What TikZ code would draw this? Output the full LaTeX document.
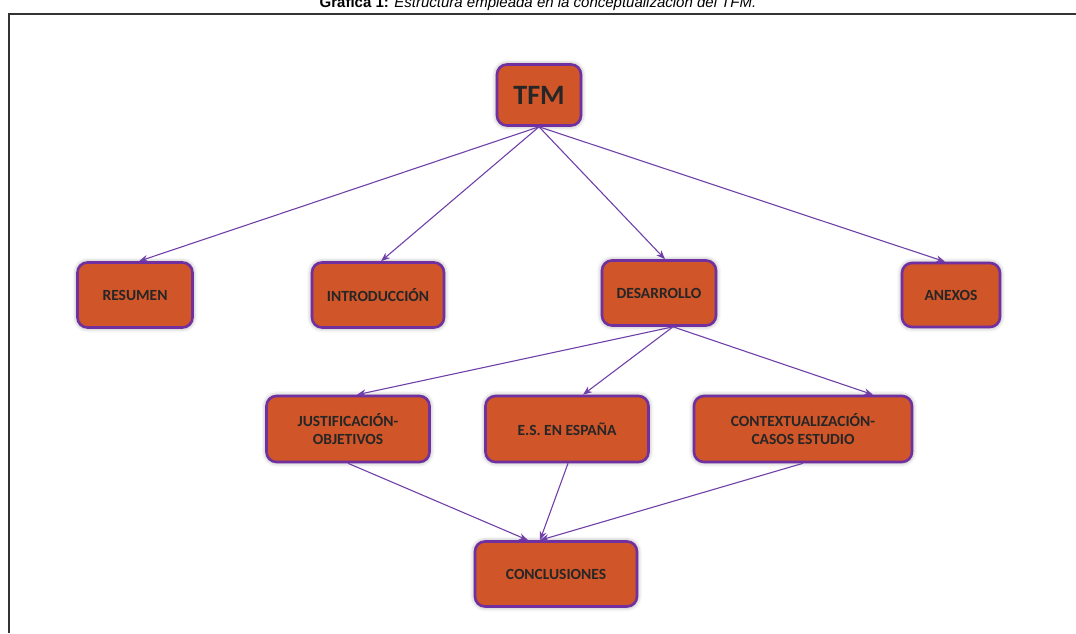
\documentclass[tikz,border=0pt]{standalone}
\usepackage{fontspec}
\setmainfont{Liberation Sans}
\newfontfamily\carlito{Carlito}
\usetikzlibrary{shadows.blur,arrows.meta}
\definecolor{boxorange}{HTML}{D05528}
\definecolor{boxpurple}{HTML}{7030A0}
\definecolor{textdark}{HTML}{262626}
\definecolor{linepurple}{HTML}{7040A8}
\tikzset{
  box/.style={draw=boxpurple, line width=2.6pt, fill=boxorange, rounded corners=10pt,
    text=textdark, align=center, inner sep=0pt,
    font=\carlito\bfseries\fontsize{15.5}{18}\selectfont,
    blur shadow={shadow xshift=0pt, shadow yshift=0pt, shadow blur radius=5pt, shadow opacity=45}},
  conn/.style={draw=linepurple, line width=1.1pt, -{Stealth[length=9pt,width=7pt]}},
  framing/.style={draw=black!80, line width=2pt}
}
\begin{document}
\begin{tikzpicture}[x=1pt,y=-1pt]
\useasboundingbox (0,0) rectangle (1076,633);
\clip (0,0) rectangle (1076,633);
\node[font=\fontsize{15}{17}\selectfont] (title) at (538,3.5) {\textbf{Gráfica 1:} \textit{Estructura empleada en la conceptualización del TFM.}};
\coordinate (ftl) at (9,14);
\coordinate (ftr) at (1076,14);
\coordinate (fbl) at (9,633);
\draw[framing] (fbl) -- (ftl) -- (ftr);

\node[box, minimum width=84pt, minimum height=61pt, font=\carlito\bfseries\fontsize{28}{30}\selectfont] (tfm) at (539,95) {TFM};
\node[box, minimum width=115pt, minimum height=65pt] (res) at (135,295) {RESUMEN};
\node[box, minimum width=132pt, minimum height=65pt] (intro) at (378,295) {INTRODUCCIÓN};
\node[box, minimum width=114pt, minimum height=65pt] (des) at (659,293) {DESARROLLO};
\node[box, minimum width=98pt, minimum height=64pt] (anx) at (951,295) {ANEXOS};
\node[box, minimum width=163pt, minimum height=66pt] (just) at (348,429) {JUSTIFICACIÓN-\\OBJETIVOS};
\node[box, minimum width=163pt, minimum height=66pt] (es) at (567,429) {E.S. EN ESPAÑA};
\node[box, minimum width=218pt, minimum height=66pt] (ctx) at (803,429) {CONTEXTUALIZACIÓN-\\CASOS ESTUDIO};
\node[box, minimum width=162pt, minimum height=65pt] (conc) at (556,574) {CONCLUSIONES};

\draw[conn] (tfm.south) -- ([xshift=4pt]res.north);
\draw[conn] (tfm.south) -- ([xshift=3pt]intro.north);
\draw[conn] (tfm.south) -- ([xshift=6pt]des.north);
\draw[conn] (tfm.south) -- ([xshift=-6pt]anx.north);

\draw[conn] ([xshift=14pt]des.south) -- ([xshift=9pt]just.north);
\draw[conn] ([xshift=14pt]des.south) -- ([xshift=16pt]es.north);
\draw[conn] ([xshift=14pt]des.south) -- ([xshift=70pt]ctx.north);

\draw[conn] (just.south) -- ([xshift=-28pt]conc.north);
\draw[conn] ([xshift=1pt]es.south) -- ([xshift=-16pt]conc.north);
\draw[conn] (ctx.south) -- ([xshift=-16pt]conc.north);
\end{tikzpicture}
\end{document}
